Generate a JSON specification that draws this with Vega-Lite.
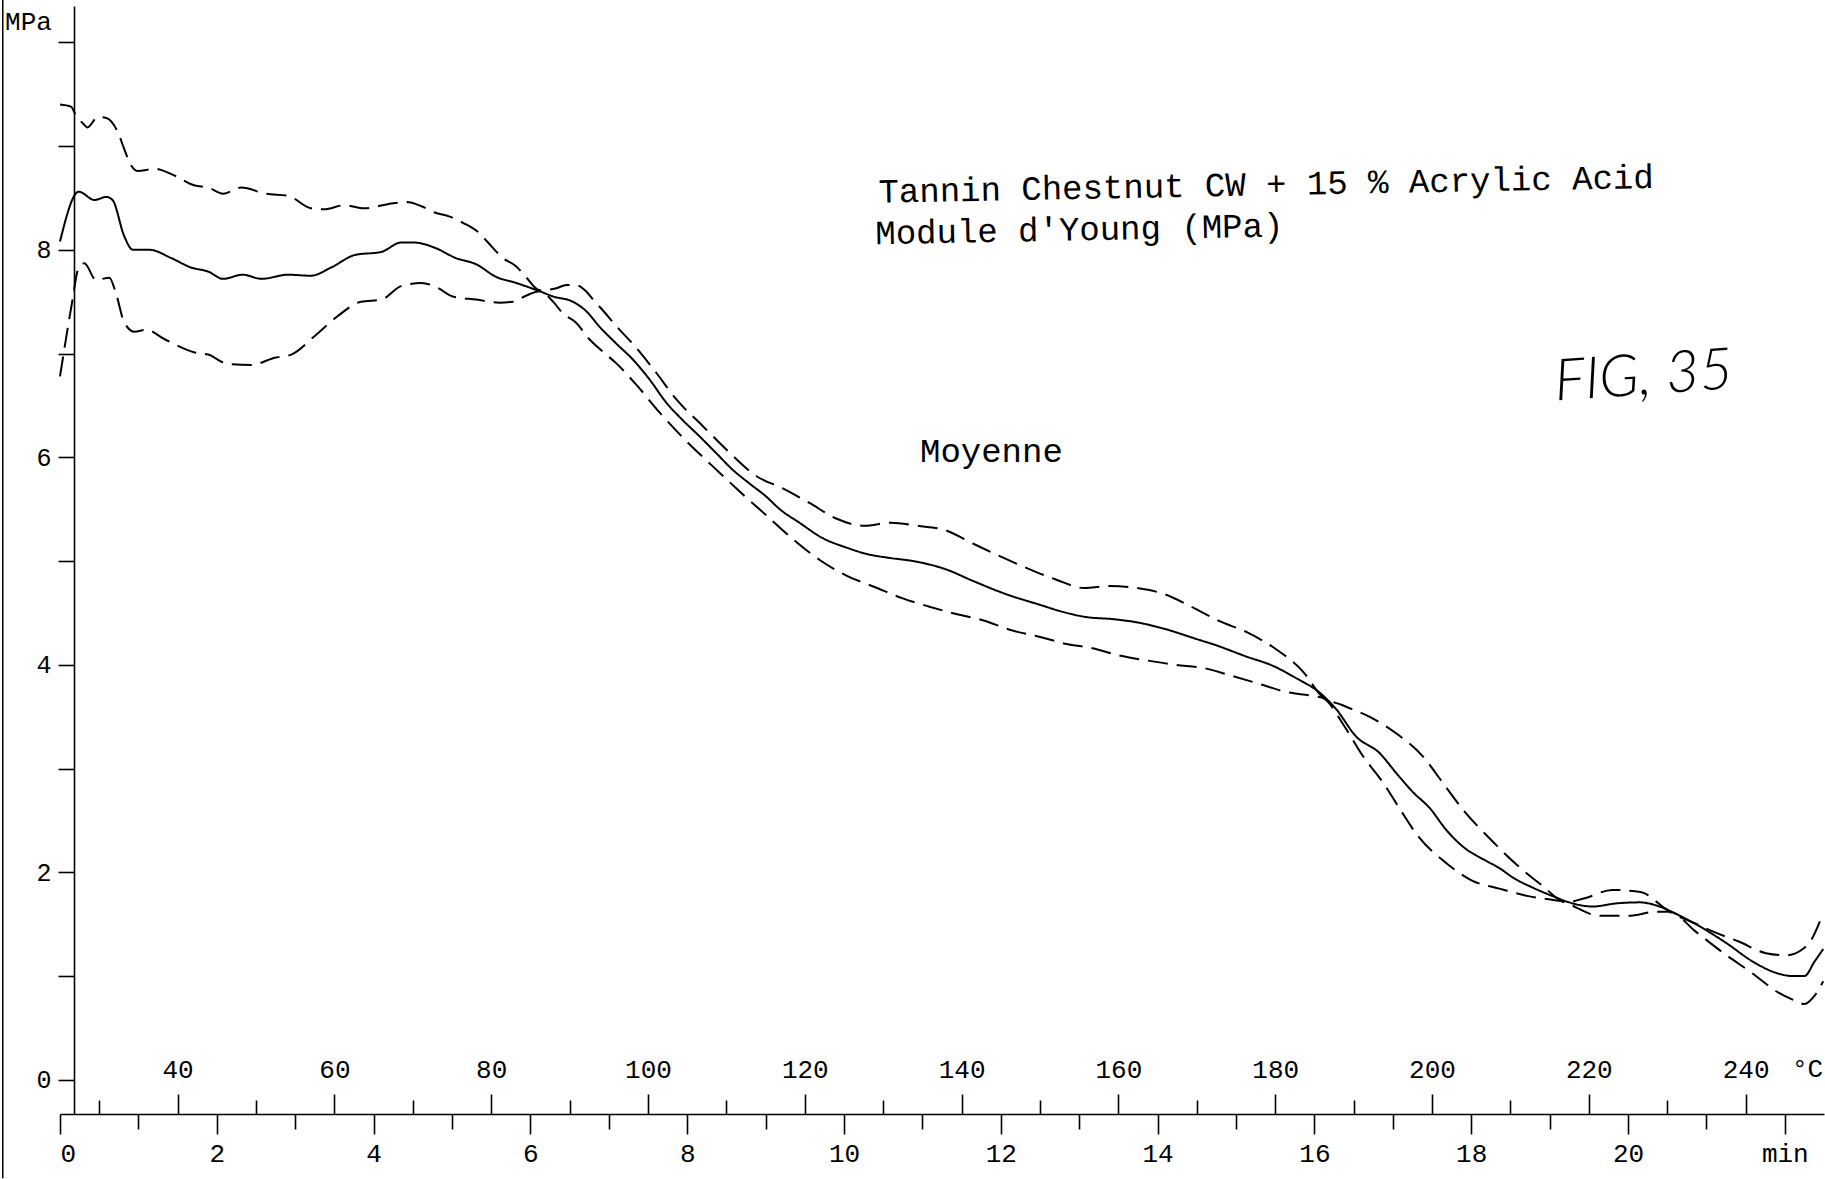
{
  "$schema": "https://vega.github.io/schema/vega-lite/v6.json",
  "width": 1764,
  "height": 1108,
  "autosize": "none",
  "padding": {"left": 60, "top": 6, "right": 1, "bottom": 65},
  "background": "white",
  "config": {
    "view": {"stroke": null},
    "font": "Liberation Mono",
    "axis": {
      "labelFont": "Liberation Mono",
      "labelFontSize": 26,
      "labelColor": "black",
      "tickColor": "black",
      "domainColor": "black",
      "tickWidth": 1.6,
      "domainWidth": 1.6,
      "grid": false,
      "titleFont": "Liberation Mono",
      "titleFontWeight": "normal",
      "titleColor": "black",
      "titleFontSize": 26
    }
  },
  "datasets": {
    "curves": [
      {"s": "haut", "t": 0.0, "v": 9.40}, {"s": "haut", "t": 0.14, "v": 9.38}, {"s": "haut", "t": 0.2, "v": 9.30},
      {"s": "haut", "t": 0.29, "v": 9.22}, {"s": "haut", "t": 0.35, "v": 9.18}, {"s": "haut", "t": 0.48, "v": 9.28},
      {"s": "haut", "t": 0.59, "v": 9.27}, {"s": "haut", "t": 0.74, "v": 9.13}, {"s": "haut", "t": 0.82, "v": 8.97},
      {"s": "haut", "t": 0.91, "v": 8.81}, {"s": "haut", "t": 0.99, "v": 8.76}, {"s": "haut", "t": 1.21, "v": 8.78},
      {"s": "haut", "t": 1.42, "v": 8.73}, {"s": "haut", "t": 1.72, "v": 8.62}, {"s": "haut", "t": 1.89, "v": 8.60},
      {"s": "haut", "t": 2.08, "v": 8.54}, {"s": "haut", "t": 2.31, "v": 8.60}, {"s": "haut", "t": 2.63, "v": 8.54},
      {"s": "haut", "t": 2.91, "v": 8.52}, {"s": "haut", "t": 3.20, "v": 8.40}, {"s": "haut", "t": 3.37, "v": 8.39},
      {"s": "haut", "t": 3.63, "v": 8.43}, {"s": "haut", "t": 3.88, "v": 8.40}, {"s": "haut", "t": 4.18, "v": 8.44},
      {"s": "haut", "t": 4.42, "v": 8.46}, {"s": "haut", "t": 4.61, "v": 8.42}, {"s": "haut", "t": 4.78, "v": 8.36},
      {"s": "haut", "t": 4.97, "v": 8.32}, {"s": "haut", "t": 5.14, "v": 8.26}, {"s": "haut", "t": 5.35, "v": 8.16},
      {"s": "haut", "t": 5.46, "v": 8.07}, {"s": "haut", "t": 5.65, "v": 7.92}, {"s": "haut", "t": 5.82, "v": 7.84},
      {"s": "haut", "t": 5.95, "v": 7.73}, {"s": "haut", "t": 6.12, "v": 7.61}, {"s": "haut", "t": 6.33, "v": 7.63},
      {"s": "haut", "t": 6.46, "v": 7.66}, {"s": "haut", "t": 6.58, "v": 7.66}, {"s": "haut", "t": 6.71, "v": 7.60},
      {"s": "haut", "t": 6.80, "v": 7.52}, {"s": "haut", "t": 6.92, "v": 7.42}, {"s": "haut", "t": 7.10, "v": 7.26},
      {"s": "haut", "t": 7.31, "v": 7.09}, {"s": "haut", "t": 7.61, "v": 6.81}, {"s": "haut", "t": 7.86, "v": 6.56},
      {"s": "haut", "t": 8.20, "v": 6.30}, {"s": "haut", "t": 8.52, "v": 6.06}, {"s": "haut", "t": 8.88, "v": 5.82},
      {"s": "haut", "t": 9.22, "v": 5.70}, {"s": "haut", "t": 9.56, "v": 5.56}, {"s": "haut", "t": 9.90, "v": 5.41},
      {"s": "haut", "t": 10.26, "v": 5.34}, {"s": "haut", "t": 10.60, "v": 5.37}, {"s": "haut", "t": 10.94, "v": 5.34},
      {"s": "haut", "t": 11.28, "v": 5.30}, {"s": "haut", "t": 11.64, "v": 5.17}, {"s": "haut", "t": 11.98, "v": 5.05},
      {"s": "haut", "t": 12.34, "v": 4.93}, {"s": "haut", "t": 12.71, "v": 4.82}, {"s": "haut", "t": 13.06, "v": 4.74},
      {"s": "haut", "t": 13.39, "v": 4.76}, {"s": "haut", "t": 13.74, "v": 4.74}, {"s": "haut", "t": 14.09, "v": 4.68},
      {"s": "haut", "t": 14.43, "v": 4.56}, {"s": "haut", "t": 14.79, "v": 4.42}, {"s": "haut", "t": 15.15, "v": 4.31},
      {"s": "haut", "t": 15.51, "v": 4.15}, {"s": "haut", "t": 15.86, "v": 3.93}, {"s": "haut", "t": 16.09, "v": 3.70},
      {"s": "haut", "t": 16.36, "v": 3.61}, {"s": "haut", "t": 16.70, "v": 3.50}, {"s": "haut", "t": 17.06, "v": 3.33},
      {"s": "haut", "t": 17.38, "v": 3.12}, {"s": "haut", "t": 17.64, "v": 2.86}, {"s": "haut", "t": 17.91, "v": 2.59},
      {"s": "haut", "t": 18.23, "v": 2.33}, {"s": "haut", "t": 18.57, "v": 2.08}, {"s": "haut", "t": 18.91, "v": 1.87},
      {"s": "haut", "t": 19.21, "v": 1.71}, {"s": "haut", "t": 19.45, "v": 1.75}, {"s": "haut", "t": 19.80, "v": 1.83},
      {"s": "haut", "t": 20.16, "v": 1.81}, {"s": "haut", "t": 20.44, "v": 1.67}, {"s": "haut", "t": 20.53, "v": 1.62},
      {"s": "haut", "t": 20.85, "v": 1.51}, {"s": "haut", "t": 21.08, "v": 1.43}, {"s": "haut", "t": 21.42, "v": 1.33},
      {"s": "haut", "t": 21.76, "v": 1.22}, {"s": "haut", "t": 22.02, "v": 1.20}, {"s": "haut", "t": 22.23, "v": 1.26},
      {"s": "haut", "t": 22.34, "v": 1.35}, {"s": "haut", "t": 22.46, "v": 1.55},

      {"s": "bas", "t": 0.0, "v": 6.78}, {"s": "bas", "t": 0.16, "v": 7.52}, {"s": "bas", "t": 0.23, "v": 7.81},
      {"s": "bas", "t": 0.31, "v": 7.87}, {"s": "bas", "t": 0.46, "v": 7.71}, {"s": "bas", "t": 0.63, "v": 7.73},
      {"s": "bas", "t": 0.71, "v": 7.59}, {"s": "bas", "t": 0.82, "v": 7.30}, {"s": "bas", "t": 0.95, "v": 7.21},
      {"s": "bas", "t": 1.10, "v": 7.23}, {"s": "bas", "t": 1.33, "v": 7.14}, {"s": "bas", "t": 1.72, "v": 7.01},
      {"s": "bas", "t": 1.89, "v": 6.99}, {"s": "bas", "t": 2.14, "v": 6.90}, {"s": "bas", "t": 2.44, "v": 6.89},
      {"s": "bas", "t": 2.74, "v": 6.96}, {"s": "bas", "t": 2.95, "v": 6.99}, {"s": "bas", "t": 3.25, "v": 7.17},
      {"s": "bas", "t": 3.54, "v": 7.36}, {"s": "bas", "t": 3.84, "v": 7.50}, {"s": "bas", "t": 4.10, "v": 7.52},
      {"s": "bas", "t": 4.35, "v": 7.65}, {"s": "bas", "t": 4.61, "v": 7.68}, {"s": "bas", "t": 4.80, "v": 7.64},
      {"s": "bas", "t": 5.01, "v": 7.55}, {"s": "bas", "t": 5.31, "v": 7.52}, {"s": "bas", "t": 5.61, "v": 7.49},
      {"s": "bas", "t": 5.78, "v": 7.50}, {"s": "bas", "t": 5.95, "v": 7.56}, {"s": "bas", "t": 6.12, "v": 7.60},
      {"s": "bas", "t": 6.29, "v": 7.50}, {"s": "bas", "t": 6.41, "v": 7.39}, {"s": "bas", "t": 6.58, "v": 7.30},
      {"s": "bas", "t": 6.75, "v": 7.14}, {"s": "bas", "t": 6.92, "v": 7.02}, {"s": "bas", "t": 7.09, "v": 6.91},
      {"s": "bas", "t": 7.35, "v": 6.70}, {"s": "bas", "t": 7.65, "v": 6.43}, {"s": "bas", "t": 7.97, "v": 6.17},
      {"s": "bas", "t": 8.33, "v": 5.91}, {"s": "bas", "t": 8.67, "v": 5.67}, {"s": "bas", "t": 9.01, "v": 5.44},
      {"s": "bas", "t": 9.35, "v": 5.21}, {"s": "bas", "t": 9.69, "v": 5.01}, {"s": "bas", "t": 10.03, "v": 4.86},
      {"s": "bas", "t": 10.39, "v": 4.75}, {"s": "bas", "t": 10.75, "v": 4.64}, {"s": "bas", "t": 11.09, "v": 4.56},
      {"s": "bas", "t": 11.43, "v": 4.49}, {"s": "bas", "t": 11.77, "v": 4.43}, {"s": "bas", "t": 12.15, "v": 4.33},
      {"s": "bas", "t": 12.49, "v": 4.27}, {"s": "bas", "t": 12.84, "v": 4.20}, {"s": "bas", "t": 13.17, "v": 4.16},
      {"s": "bas", "t": 13.51, "v": 4.09}, {"s": "bas", "t": 13.88, "v": 4.04}, {"s": "bas", "t": 14.22, "v": 4.00},
      {"s": "bas", "t": 14.58, "v": 3.97}, {"s": "bas", "t": 14.92, "v": 3.90}, {"s": "bas", "t": 15.28, "v": 3.82},
      {"s": "bas", "t": 15.63, "v": 3.74}, {"s": "bas", "t": 15.98, "v": 3.70}, {"s": "bas", "t": 16.11, "v": 3.68},
      {"s": "bas", "t": 16.38, "v": 3.41}, {"s": "bas", "t": 16.61, "v": 3.13}, {"s": "bas", "t": 16.88, "v": 2.86},
      {"s": "bas", "t": 17.09, "v": 2.61}, {"s": "bas", "t": 17.32, "v": 2.35}, {"s": "bas", "t": 17.68, "v": 2.09},
      {"s": "bas", "t": 18.01, "v": 1.92}, {"s": "bas", "t": 18.37, "v": 1.84}, {"s": "bas", "t": 18.73, "v": 1.77},
      {"s": "bas", "t": 19.07, "v": 1.73}, {"s": "bas", "t": 19.21, "v": 1.71}, {"s": "bas", "t": 19.34, "v": 1.66},
      {"s": "bas", "t": 19.64, "v": 1.58}, {"s": "bas", "t": 20.01, "v": 1.58}, {"s": "bas", "t": 20.36, "v": 1.62},
      {"s": "bas", "t": 20.53, "v": 1.62}, {"s": "bas", "t": 20.86, "v": 1.43}, {"s": "bas", "t": 21.22, "v": 1.22},
      {"s": "bas", "t": 21.58, "v": 1.03}, {"s": "bas", "t": 21.92, "v": 0.84}, {"s": "bas", "t": 22.14, "v": 0.76},
      {"s": "bas", "t": 22.25, "v": 0.73}, {"s": "bas", "t": 22.38, "v": 0.81}, {"s": "bas", "t": 22.49, "v": 0.95},

      {"s": "Moyenne", "t": 0.0, "v": 8.08}, {"s": "Moyenne", "t": 0.24, "v": 8.56}, {"s": "Moyenne", "t": 0.44, "v": 8.48},
      {"s": "Moyenne", "t": 0.59, "v": 8.51}, {"s": "Moyenne", "t": 0.67, "v": 8.48}, {"s": "Moyenne", "t": 0.82, "v": 8.13},
      {"s": "Moyenne", "t": 0.93, "v": 8.00}, {"s": "Moyenne", "t": 1.14, "v": 8.00}, {"s": "Moyenne", "t": 1.42, "v": 7.92},
      {"s": "Moyenne", "t": 1.67, "v": 7.83}, {"s": "Moyenne", "t": 1.89, "v": 7.79}, {"s": "Moyenne", "t": 2.08, "v": 7.72},
      {"s": "Moyenne", "t": 2.33, "v": 7.76}, {"s": "Moyenne", "t": 2.57, "v": 7.72}, {"s": "Moyenne", "t": 2.91, "v": 7.76},
      {"s": "Moyenne", "t": 3.20, "v": 7.75}, {"s": "Moyenne", "t": 3.46, "v": 7.83}, {"s": "Moyenne", "t": 3.76, "v": 7.95},
      {"s": "Moyenne", "t": 4.10, "v": 7.98}, {"s": "Moyenne", "t": 4.35, "v": 8.07}, {"s": "Moyenne", "t": 4.52, "v": 8.07},
      {"s": "Moyenne", "t": 4.78, "v": 8.02}, {"s": "Moyenne", "t": 5.05, "v": 7.92}, {"s": "Moyenne", "t": 5.31, "v": 7.86},
      {"s": "Moyenne", "t": 5.56, "v": 7.74}, {"s": "Moyenne", "t": 5.82, "v": 7.68}, {"s": "Moyenne", "t": 6.12, "v": 7.60},
      {"s": "Moyenne", "t": 6.29, "v": 7.55}, {"s": "Moyenne", "t": 6.54, "v": 7.50}, {"s": "Moyenne", "t": 6.71, "v": 7.41},
      {"s": "Moyenne", "t": 6.88, "v": 7.26}, {"s": "Moyenne", "t": 7.09, "v": 7.10}, {"s": "Moyenne", "t": 7.31, "v": 6.94},
      {"s": "Moyenne", "t": 7.52, "v": 6.75}, {"s": "Moyenne", "t": 7.73, "v": 6.53}, {"s": "Moyenne", "t": 7.94, "v": 6.36},
      {"s": "Moyenne", "t": 8.16, "v": 6.20}, {"s": "Moyenne", "t": 8.37, "v": 6.04}, {"s": "Moyenne", "t": 8.58, "v": 5.88},
      {"s": "Moyenne", "t": 8.79, "v": 5.75}, {"s": "Moyenne", "t": 9.01, "v": 5.62}, {"s": "Moyenne", "t": 9.18, "v": 5.50},
      {"s": "Moyenne", "t": 9.43, "v": 5.37}, {"s": "Moyenne", "t": 9.73, "v": 5.22}, {"s": "Moyenne", "t": 10.03, "v": 5.13},
      {"s": "Moyenne", "t": 10.28, "v": 5.07}, {"s": "Moyenne", "t": 10.58, "v": 5.03}, {"s": "Moyenne", "t": 10.88, "v": 5.00},
      {"s": "Moyenne", "t": 11.30, "v": 4.92}, {"s": "Moyenne", "t": 11.64, "v": 4.81}, {"s": "Moyenne", "t": 12.07, "v": 4.68},
      {"s": "Moyenne", "t": 12.49, "v": 4.58}, {"s": "Moyenne", "t": 12.79, "v": 4.51}, {"s": "Moyenne", "t": 13.09, "v": 4.46},
      {"s": "Moyenne", "t": 13.43, "v": 4.44}, {"s": "Moyenne", "t": 13.73, "v": 4.41}, {"s": "Moyenne", "t": 14.07, "v": 4.35},
      {"s": "Moyenne", "t": 14.53, "v": 4.24}, {"s": "Moyenne", "t": 14.70, "v": 4.20}, {"s": "Moyenne", "t": 15.13, "v": 4.08},
      {"s": "Moyenne", "t": 15.47, "v": 3.99}, {"s": "Moyenne", "t": 15.77, "v": 3.87}, {"s": "Moyenne", "t": 16.07, "v": 3.73},
      {"s": "Moyenne", "t": 16.28, "v": 3.57}, {"s": "Moyenne", "t": 16.53, "v": 3.31}, {"s": "Moyenne", "t": 16.83, "v": 3.15},
      {"s": "Moyenne", "t": 17.04, "v": 2.96}, {"s": "Moyenne", "t": 17.26, "v": 2.77}, {"s": "Moyenne", "t": 17.47, "v": 2.62},
      {"s": "Moyenne", "t": 17.68, "v": 2.41}, {"s": "Moyenne", "t": 17.89, "v": 2.25}, {"s": "Moyenne", "t": 18.19, "v": 2.11},
      {"s": "Moyenne", "t": 18.36, "v": 2.04}, {"s": "Moyenne", "t": 18.53, "v": 1.95}, {"s": "Moyenne", "t": 18.79, "v": 1.85},
      {"s": "Moyenne", "t": 19.04, "v": 1.77}, {"s": "Moyenne", "t": 19.25, "v": 1.71}, {"s": "Moyenne", "t": 19.55, "v": 1.67},
      {"s": "Moyenne", "t": 19.85, "v": 1.70}, {"s": "Moyenne", "t": 20.15, "v": 1.71}, {"s": "Moyenne", "t": 20.40, "v": 1.67},
      {"s": "Moyenne", "t": 20.61, "v": 1.60}, {"s": "Moyenne", "t": 20.91, "v": 1.48}, {"s": "Moyenne", "t": 21.25, "v": 1.32},
      {"s": "Moyenne", "t": 21.59, "v": 1.14}, {"s": "Moyenne", "t": 21.89, "v": 1.03}, {"s": "Moyenne", "t": 22.10, "v": 1.00},
      {"s": "Moyenne", "t": 22.25, "v": 1.00}, {"s": "Moyenne", "t": 22.38, "v": 1.14}, {"s": "Moyenne", "t": 22.49, "v": 1.26}
    ]
  },
  "layer": [
    {
      "data": {"name": "curves"},
      "mark": {"type": "line", "color": "black", "strokeWidth": 2, "interpolate": "monotone", "clip": false},
      "encoding": {
        "x": {
          "field": "t", "type": "quantitative",
          "scale": {"domain": [0, 22.5], "nice": false, "zero": false},
          "axis": {
            "orient": "bottom",
            "values": [0,1,2,3,4,5,6,7,8,9,10,11,12,13,14,15,16,17,18,19,20,21,22],
            "labelExpr": "datum.value == 22 ? 'min' : (datum.value % 2 == 0 ? format(datum.value, 'd') : '')",
            "tickSize": {"condition": {"test": "datum.value % 2 == 0", "value": 20}, "value": 15},
            "labelPadding": 6,
            "labelBaseline": "top",
            "title": null
          }
        },
        "y": {
          "field": "v", "type": "quantitative",
          "scale": {"domain": [-0.33, 10.35], "nice": false, "zero": false},
          "axis": {
            "orient": "left",
            "offset": -14,
            "values": [0,1,2,3,4,5,6,7,8,9,10],
            "labelExpr": "(datum.value % 2 == 0 && datum.value < 10) ? format(datum.value, 'd') : ''",
            "tickSize": 16,
            "labelPadding": 7,
            "labelFontSize": 25,
            "title": "MPa",
            "titleAngle": 0,
            "titleAlign": "center",
            "titleBaseline": "middle",
            "titleX": -46,
            "titleY": 15
          }
        },
        "strokeDash": {
          "field": "s", "type": "nominal",
          "scale": {"domain": ["Moyenne", "haut", "bas"], "range": [[1, 0], [20, 9], [20, 9]]},
          "legend": null
        }
      }
    },
    {
      "data": {"values": [{}]},
      "mark": {"type": "text", "align": "left", "baseline": "middle", "fontSize": 34, "font": "Liberation Mono", "color": "black", "angle": -1.1},
      "encoding": {
        "text": {"value": "Tannin Chestnut CW + 15 % Acrylic Acid"},
        "x": {
          "datum": 10.44, "type": "quantitative",
          "scale": {"domain": [0, 22.5], "nice": false, "zero": false},
          "axis": {
            "orient": "top",
            "offset": -1108,
            "domain": false,
            "values": [0.5,1.5,2.5,3.5,4.5,5.5,6.5,7.5,8.5,9.5,10.5,11.5,12.5,13.5,14.5,15.5,16.5,17.5,18.5,19.5,20.5,21.5],
            "labelExpr": "((datum.value*10+25) % 20 == 0) ? format(datum.value*10+25, 'd') : ''",
            "tickSize": {"condition": {"test": "(datum.value*10+25) % 20 == 0", "value": 20}, "value": 14},
            "labelPadding": 12,
            "labelBaseline": "bottom",
            "title": "°C",
            "titleAngle": 0,
            "titleAlign": "center",
            "titleBaseline": "middle",
            "titleX": 1747,
            "titleY": -46
          }
        },
        "y": {"datum": 8.55, "type": "quantitative", "scale": {"domain": [-0.33, 10.35], "nice": false, "zero": false}}
      }
    },
    {
      "data": {"values": [{}]},
      "mark": {"type": "text", "align": "left", "baseline": "middle", "fontSize": 34, "font": "Liberation Mono", "color": "black", "angle": -1.1},
      "encoding": {
        "text": {"value": "Module d'Young (MPa)"},
        "x": {"datum": 10.40, "type": "quantitative", "scale": {"domain": [0, 22.5], "nice": false, "zero": false}, "axis": null},
        "y": {"datum": 8.15, "type": "quantitative", "scale": {"domain": [-0.33, 10.35], "nice": false, "zero": false}}
      }
    },
    {
      "data": {"values": [{}]},
      "mark": {"type": "text", "align": "center", "baseline": "middle", "fontSize": 34, "font": "Liberation Mono", "color": "black"},
      "encoding": {
        "text": {"value": "Moyenne"},
        "x": {"datum": 11.88, "type": "quantitative", "scale": {"domain": [0, 22.5], "nice": false, "zero": false}, "axis": null},
        "y": {"datum": 6.05, "type": "quantitative", "scale": {"domain": [-0.33, 10.35], "nice": false, "zero": false}}
      }
    },
    {
      "data": {"values": [{}]},
      "mark": {"type": "text", "align": "center", "baseline": "middle", "fontSize": 58, "font": "Lato", "fontWeight": 300, "fontStyle": "italic", "color": "black", "angle": -4},
      "encoding": {
        "text": {"value": "FIG, 35"},
        "x": {"datum": 20.2, "type": "quantitative", "scale": {"domain": [0, 22.5], "nice": false, "zero": false}, "axis": null},
        "y": {"datum": 6.77, "type": "quantitative", "scale": {"domain": [-0.33, 10.35], "nice": false, "zero": false}}
      }
    },
    {
      "data": {"values": [{}]},
      "mark": {"type": "rule", "color": "black", "strokeWidth": 1.5, "clip": false},
      "encoding": {
        "x": {"datum": -0.73, "type": "quantitative", "scale": {"domain": [0, 22.5], "nice": false, "zero": false}, "axis": null},
        "y": {"datum": 10.41, "type": "quantitative", "scale": {"domain": [-0.33, 10.35], "nice": false, "zero": false}},
        "y2": {"datum": -0.95}
      }
    }
  ],
  "resolve": {"axis": {"x": "independent"}}
}
